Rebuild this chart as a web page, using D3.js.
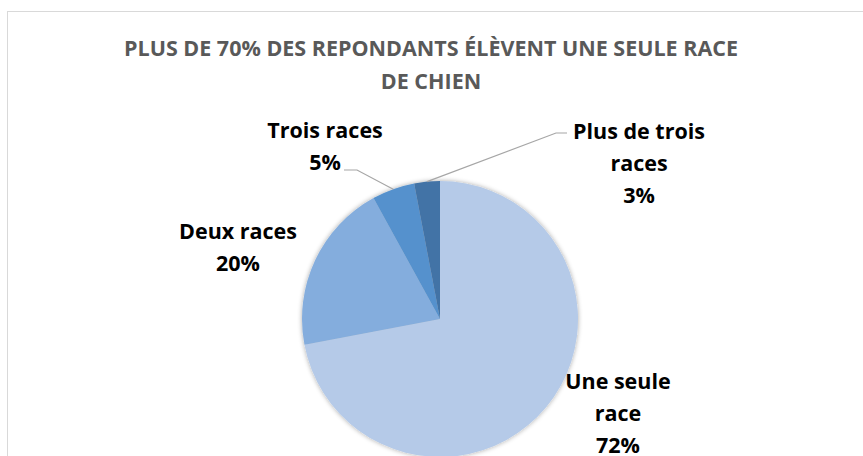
<!DOCTYPE html>
<html><head><meta charset="utf-8">
<script src="https://cdn.jsdelivr.net/npm/d3@7"></script>
<style>body{margin:0;background:#fff;}svg{display:block;}</style>
</head><body>
<script>
const categories = ["Une seule race", "Deux races", "Trois races", "Plus de trois races"];
const values = [72, 20, 5, 3];
const labelLines = [["Une seule", "race", "72%"], ["Deux races", "20%"], ["Trois races", "5%"], ["Plus de trois", "races", "3%"]];
const colors = ["#b5cae8", "#84addd", "#5591cd", "#4373a6"];
const titleLines = ["PLUS DE 70% DES REPONDANTS ÉLÈVENT UNE SEULE RACE", "DE CHIEN"];

const W = 863, H = 456;
const svg = d3.select("body").append("svg").attr("width", W).attr("height", H);
const defs = svg.append("defs");
const f = defs.append("filter").attr("id", "sh").attr("x", "-20%").attr("y", "-20%").attr("width", "140%").attr("height", "140%");
f.append("feGaussianBlur").attr("in", "SourceAlpha").attr("stdDeviation", 2.5).attr("result", "b");
f.append("feComponentTransfer").attr("in", "b").attr("result", "o2").append("feFuncA").attr("type", "linear").attr("slope", 0.35);
const m = f.append("feMerge"); m.append("feMergeNode").attr("in", "o2"); m.append("feMergeNode").attr("in", "SourceGraphic");

svg.append("rect").attr("x", 7.5).attr("y", 11.5).attr("width", 900).attr("height", 500)
  .attr("fill", "#fff").attr("stroke", "#d9d9d9").attr("stroke-width", 1);

const font = "'Open Sans', 'Liberation Sans', sans-serif";
const title = svg.append("text").attr("text-anchor", "middle").attr("font-family", font)
  .attr("font-weight", "bold").attr("font-size", 21.5).attr("fill", "#595959");
titleLines.forEach((t, i) => title.append("tspan").attr("x", 431).attr("y", 56 + i * 33).text(t));

const cx = 440, cy = 319, R = 138;
const pie = d3.pie().sort(null).value(d => d)(values);
const arc = d3.arc().innerRadius(0).outerRadius(R);
const g = svg.append("g").attr("transform", `translate(${cx},${cy})`);
g.append("g").attr("filter", "url(#sh)").selectAll("path").data(pie).join("path")
  .attr("d", arc).attr("fill", (d, i) => colors[i]);

// leader lines
const edge = d3.arc().innerRadius(R).outerRadius(R);
const p2 = edge.centroid(pie[2]), p3 = edge.centroid(pie[3]);
svg.append("polyline").attr("fill", "none").attr("stroke", "#a6a6a6").attr("stroke-width", 1.2)
  .attr("points", `${344},${170} ${357},${170} ${cx + p2[0]},${cy + p2[1]}`);
svg.append("polyline").attr("fill", "none").attr("stroke", "#a6a6a6").attr("stroke-width", 1.2)
  .attr("points", `${567},${133} ${556},${133} ${cx + p3[0]},${cy + p3[1]}`);

const labelPos = [[618, 389], [238, 239], [325, 138], [639, 139]];
const lh = 32;
labelLines.forEach((lines, i) => {
  const t = svg.append("text").attr("font-family", font).attr("font-weight", "bold")
    .attr("font-size", 21.5).attr("fill", "#000").attr("text-anchor", "middle");
  lines.forEach((s, j) => t.append("tspan").attr("x", labelPos[i][0]).attr("y", labelPos[i][1] + j * lh).text(s));
});
</script>
</body></html>
